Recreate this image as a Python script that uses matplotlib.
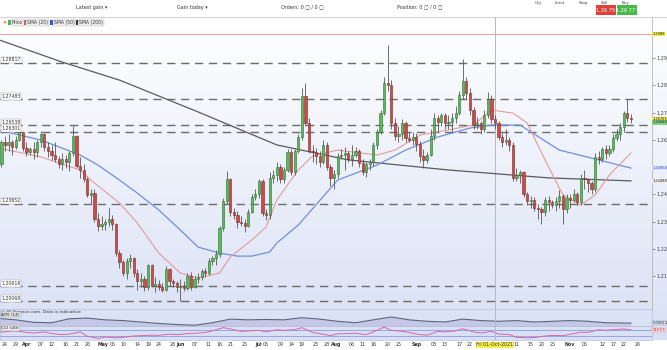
import numpy as np
import pandas as pd
import matplotlib
matplotlib.use("Agg")
import matplotlib.pyplot as plt
from matplotlib.patches import Rectangle

# ---------------- data ----------------
dates = pd.bdate_range("2021-03-22", "2021-11-24")

opens = [1.2480,1.2510,1.2592,1.2580,1.2590,1.2575,1.2600,1.2628,1.2570,1.2555,
         1.2565,1.2555,1.2590,1.2622,1.2575,1.2560,1.2545,1.2530,1.2510,1.2530,
         1.2520,1.2550,1.2615,1.2505,1.2490,1.2455,1.2397,1.2405,1.2310,1.2285,
         1.2290,1.2300,1.2310,1.2290,1.2185,1.2150,1.2110,1.2155,1.2165,1.2110,
         1.2080,1.2090,1.2060,1.2140,1.2065,1.2070,1.2060,1.2050,1.2125,1.2080,
         1.2075,1.2060,1.2065,1.2055,1.2100,1.2060,1.2090,1.2095,1.2120,1.2110,
         1.2155,1.2165,1.2180,1.2275,1.2375,1.2455,1.2335,1.2325,1.2300,1.2295,
         1.2285,1.2335,1.2390,1.2400,1.2450,1.2330,1.2325,1.2460,1.2470,1.2500,
         1.2455,1.2490,1.2555,1.2480,1.2560,1.2610,1.2760,1.2660,1.2560,1.2555,
         1.2540,1.2520,1.2580,1.2500,1.2460,1.2475,1.2540,1.2545,1.2550,1.2530,
         1.2545,1.2560,1.2515,1.2480,1.2510,1.2520,1.2580,1.2630,1.2700,1.2810,
         1.2800,1.2660,1.2615,1.2620,1.2660,1.2605,1.2600,1.2610,1.2585,1.2540,
         1.2525,1.2545,1.2615,1.2680,1.2665,1.2690,1.2660,1.2665,1.2680,1.2700,
         1.2765,1.2815,1.2770,1.2710,1.2655,1.2660,1.2640,1.2690,1.2750,1.2675,
         1.2660,1.2610,1.2590,1.2600,1.2580,1.2460,1.2470,1.2480,1.2400,1.2375,
         1.2380,1.2350,1.2345,1.2335,1.2380,1.2370,1.2360,1.2375,1.2395,1.2345,
         1.2385,1.2380,1.2400,1.2370,1.2460,1.2455,1.2440,1.2420,1.2535,1.2530,
         1.2565,1.2550,1.2565,1.2605,1.2620,1.2645,1.2700,1.2680]
highs = [1.2520,1.2600,1.2615,1.2620,1.2600,1.2615,1.2632,1.2630,1.2590,1.2575,
         1.2590,1.2600,1.2632,1.2625,1.2590,1.2580,1.2590,1.2540,1.2550,1.2545,
         1.2560,1.2650,1.2618,1.2535,1.2510,1.2465,1.2420,1.2420,1.2330,1.2320,
         1.2310,1.2350,1.2325,1.2295,1.2195,1.2160,1.2165,1.2180,1.2170,1.2125,
         1.2110,1.2100,1.2145,1.2145,1.2095,1.2085,1.2075,1.2135,1.2130,1.2090,
         1.2080,1.2090,1.2080,1.2110,1.2115,1.2100,1.2110,1.2125,1.2130,1.2165,
         1.2175,1.2195,1.2285,1.2385,1.2485,1.2460,1.2350,1.2340,1.2320,1.2310,
         1.2345,1.2400,1.2420,1.2455,1.2455,1.2345,1.2480,1.2490,1.2520,1.2510,
         1.2500,1.2565,1.2565,1.2565,1.2620,1.2790,1.2808,1.2680,1.2580,1.2570,
         1.2560,1.2600,1.2590,1.2510,1.2490,1.2550,1.2565,1.2575,1.2560,1.2580,
         1.2575,1.2565,1.2530,1.2520,1.2530,1.2590,1.2640,1.2710,1.2830,1.2949,
         1.2820,1.2680,1.2650,1.2675,1.2670,1.2630,1.2630,1.2625,1.2595,1.2565,
         1.2555,1.2640,1.2700,1.2690,1.2700,1.2700,1.2690,1.2700,1.2725,1.2780,
         1.2896,1.2830,1.2790,1.2720,1.2685,1.2670,1.2710,1.2775,1.2765,1.2690,
         1.2670,1.2625,1.2640,1.2610,1.2590,1.2495,1.2490,1.2485,1.2410,1.2395,
         1.2390,1.2365,1.2355,1.2390,1.2395,1.2380,1.2390,1.2415,1.2400,1.2400,
         1.2400,1.2420,1.2410,1.2475,1.2490,1.2460,1.2450,1.2550,1.2560,1.2575,
         1.2580,1.2580,1.2620,1.2640,1.2660,1.2705,1.2750,1.2695]
lows = [1.2465,1.2500,1.2560,1.2560,1.2545,1.2565,1.2595,1.2560,1.2540,1.2545,
        1.2530,1.2535,1.2575,1.2560,1.2535,1.2525,1.2520,1.2495,1.2490,1.2495,
        1.2485,1.2540,1.2495,1.2460,1.2445,1.2390,1.2365,1.2300,1.2265,1.2270,
        1.2270,1.2285,1.2270,1.2175,1.2130,1.2100,1.2090,1.2130,1.2095,1.2050,
        1.2060,1.2045,1.2050,1.2060,1.2040,1.2050,1.2040,1.2045,1.2065,1.2060,
        1.2040,1.2007,1.2045,1.2050,1.2050,1.2055,1.2075,1.2085,1.2095,1.2105,
        1.2140,1.2140,1.2170,1.2265,1.2365,1.2320,1.2310,1.2275,1.2285,1.2260,
        1.2280,1.2330,1.2380,1.2385,1.2320,1.2305,1.2310,1.2440,1.2450,1.2440,
        1.2440,1.2480,1.2470,1.2470,1.2550,1.2600,1.2650,1.2550,1.2520,1.2510,
        1.2500,1.2510,1.2490,1.2430,1.2420,1.2460,1.2530,1.2490,1.2520,1.2505,
        1.2535,1.2500,1.2470,1.2465,1.2490,1.2505,1.2565,1.2620,1.2690,1.2780,
        1.2640,1.2600,1.2590,1.2600,1.2590,1.2590,1.2580,1.2560,1.2520,1.2495,
        1.2515,1.2540,1.2600,1.2630,1.2650,1.2640,1.2640,1.2630,1.2660,1.2690,
        1.2750,1.2750,1.2690,1.2640,1.2640,1.2620,1.2630,1.2680,1.2660,1.2640,
        1.2600,1.2575,1.2580,1.2560,1.2450,1.2450,1.2440,1.2390,1.2360,1.2350,
        1.2340,1.2310,1.2290,1.2320,1.2340,1.2350,1.2340,1.2350,1.2290,1.2330,
        1.2350,1.2370,1.2360,1.2360,1.2420,1.2410,1.2400,1.2410,1.2510,1.2520,
        1.2530,1.2540,1.2555,1.2595,1.2600,1.2630,1.2665,1.2660]
closes = [1.2510,1.2592,1.2580,1.2590,1.2575,1.2600,1.2628,1.2570,1.2555,1.2565,
          1.2555,1.2590,1.2622,1.2575,1.2560,1.2545,1.2530,1.2510,1.2530,1.2520,
          1.2550,1.2615,1.2505,1.2490,1.2455,1.2397,1.2405,1.2310,1.2285,1.2290,
          1.2300,1.2310,1.2290,1.2185,1.2150,1.2110,1.2155,1.2165,1.2110,1.2080,
          1.2090,1.2060,1.2140,1.2065,1.2070,1.2060,1.2050,1.2125,1.2080,1.2075,
          1.2060,1.2065,1.2055,1.2100,1.2060,1.2090,1.2095,1.2120,1.2110,1.2155,
          1.2165,1.2180,1.2275,1.2375,1.2455,1.2335,1.2325,1.2300,1.2295,1.2285,
          1.2335,1.2390,1.2400,1.2450,1.2330,1.2325,1.2460,1.2470,1.2500,1.2455,
          1.2490,1.2555,1.2480,1.2560,1.2610,1.2760,1.2660,1.2560,1.2555,1.2540,
          1.2520,1.2580,1.2500,1.2460,1.2475,1.2540,1.2545,1.2550,1.2530,1.2545,
          1.2560,1.2515,1.2480,1.2510,1.2520,1.2580,1.2630,1.2700,1.2810,1.2800,
          1.2660,1.2615,1.2620,1.2660,1.2605,1.2600,1.2610,1.2585,1.2540,1.2525,
          1.2545,1.2615,1.2680,1.2665,1.2690,1.2660,1.2665,1.2680,1.2700,1.2765,
          1.2815,1.2770,1.2710,1.2655,1.2660,1.2640,1.2690,1.2750,1.2675,1.2660,
          1.2610,1.2590,1.2600,1.2580,1.2460,1.2470,1.2480,1.2400,1.2375,1.2380,
          1.2350,1.2345,1.2335,1.2380,1.2370,1.2360,1.2375,1.2395,1.2345,1.2385,
          1.2380,1.2400,1.2370,1.2460,1.2455,1.2440,1.2420,1.2535,1.2530,1.2565,
          1.2550,1.2565,1.2605,1.2620,1.2645,1.2700,1.2680,1.2676]

sma20_dates = ["2021-03-22","2021-04-07","2021-04-22","2021-04-27","2021-05-07","2021-05-14",
               "2021-05-24","2021-06-01","2021-06-08","2021-06-16","2021-06-21","2021-06-29",
               "2021-07-05","2021-07-08","2021-07-16","2021-07-22","2021-08-02","2021-08-17",
               "2021-08-24","2021-09-02","2021-09-14","2021-09-23","2021-09-30","2021-10-08",
               "2021-10-14","2021-10-21","2021-10-28","2021-11-04","2021-11-10","2021-11-16","2021-11-24"]
sma20_vals = [1.2570,1.2537,1.2489,1.2452,1.2368,1.2294,1.2184,1.2111,1.2093,1.2111,1.2170,1.2232,
              1.2280,1.2379,1.2489,1.2540,1.2562,1.2544,1.2562,1.2617,1.2636,1.2654,1.2709,1.2698,
              1.2661,1.2526,1.2397,1.2361,1.2397,1.2471,1.2551]
sma50_dates = ["2021-03-22","2021-04-07","2021-04-22","2021-04-29","2021-05-07","2021-05-14",
               "2021-05-24","2021-06-01","2021-06-08","2021-06-16","2021-06-23","2021-06-29",
               "2021-07-06","2021-07-08","2021-07-16","2021-08-02","2021-08-17","2021-08-27",
               "2021-09-09","2021-09-22","2021-09-30","2021-10-12","2021-10-27","2021-11-11","2021-11-24"]
sma50_vals = [1.2636,1.2599,1.2544,1.2507,1.2452,1.2404,1.2342,1.2269,1.2206,1.2184,1.2173,1.2173,
              1.2188,1.2221,1.2287,1.2452,1.2507,1.2562,1.2610,1.2643,1.2654,1.2654,1.2562,1.2526,1.2496]
sma200_dates = ["2021-03-22","2021-04-15","2021-05-07","2021-06-08","2021-07-08","2021-08-05",
                "2021-09-14","2021-10-22","2021-11-24"]
sma200_vals = [1.2968,1.2885,1.2819,1.2702,1.2581,1.2526,1.2489,1.2460,1.2449]

atr_dates = ["2021-03-22","2021-03-29","2021-04-05","2021-04-12","2021-04-19","2021-04-26",
             "2021-05-03","2021-05-10","2021-05-17","2021-05-24","2021-05-31","2021-06-07",
             "2021-06-14","2021-06-21","2021-06-28","2021-07-05","2021-07-12","2021-07-19",
             "2021-07-26","2021-08-02","2021-08-09","2021-08-16","2021-08-23","2021-08-30",
             "2021-09-06","2021-09-13","2021-09-20","2021-09-27","2021-10-04","2021-10-11",
             "2021-10-18","2021-10-25","2021-11-01","2021-11-08","2021-11-15","2021-11-24"]
atr_vals = [0.0094,0.0090,0.0083,0.0082,0.0093,0.0095,0.0090,0.0088,0.0084,0.0080,0.0077,0.0075,
            0.0082,0.0092,0.0090,0.0091,0.0090,0.0096,0.0092,0.0086,0.0082,0.0090,0.0098,0.0090,
            0.0086,0.0084,0.0092,0.0088,0.0086,0.0088,0.0084,0.0086,0.0088,0.0086,0.0082,0.0081]

cci_dates = ["2021-03-22","2021-03-25","2021-03-29","2021-04-01","2021-04-05","2021-04-08",
             "2021-04-12","2021-04-15","2021-04-19","2021-04-22","2021-04-26","2021-04-29",
             "2021-05-03","2021-05-06","2021-05-10","2021-05-13","2021-05-17","2021-05-20",
             "2021-05-24","2021-05-27","2021-05-31","2021-06-03","2021-06-07","2021-06-10",
             "2021-06-14","2021-06-17","2021-06-21","2021-06-24","2021-06-28","2021-07-01",
             "2021-07-05","2021-07-08","2021-07-12","2021-07-15","2021-07-19","2021-07-22",
             "2021-07-26","2021-07-29","2021-08-02","2021-08-05","2021-08-09","2021-08-12",
             "2021-08-16","2021-08-19","2021-08-23","2021-08-26","2021-08-30","2021-09-02",
             "2021-09-06","2021-09-09","2021-09-13","2021-09-16","2021-09-20","2021-09-23",
             "2021-09-27","2021-09-30","2021-10-04","2021-10-07","2021-10-11","2021-10-14",
             "2021-10-18","2021-10-21","2021-10-25","2021-10-28","2021-11-01","2021-11-04",
             "2021-11-08","2021-11-11","2021-11-15","2021-11-18","2021-11-22","2021-11-24"]
cci_vals = [20,60,80,20,0,40,-20,-60,-40,40,-120,-200,-150,-180,-160,-110,-100,-80,-90,-40,
            -60,-20,-10,20,80,200,150,60,80,100,40,120,100,120,200,20,-20,-100,-30,-20,-10,-60,
            40,220,100,60,20,-60,-80,60,40,80,160,40,0,60,-40,-60,-160,-180,-170,-110,-90,-100,
            -50,30,20,120,100,130,150,115]

level_vals = [1.28817, 1.27483, 1.26538, 1.26301, 1.23652, 1.20616, 1.20068]
tick_dates = ["2021-03-24","2021-03-29","2021-04-01","2021-04-07","2021-04-12","2021-04-16",
              "2021-04-21","2021-04-26","2021-05-01","2021-05-05","2021-05-10","2021-05-14",
              "2021-05-19","2021-05-24","2021-05-28","2021-06-01","2021-06-07","2021-06-11",
              "2021-06-16","2021-06-21","2021-06-25","2021-07-01","2021-07-05","2021-07-09",
              "2021-07-14","2021-07-19","2021-07-23","2021-07-28","2021-08-01","2021-08-06",
              "2021-08-11","2021-08-16","2021-08-20","2021-08-25","2021-09-01","2021-09-08",
              "2021-09-13","2021-09-17","2021-09-22","2021-10-01","2021-10-11","2021-10-15",
              "2021-10-20","2021-10-25","2021-11-01","2021-11-05","2021-11-12",
              "2021-11-17","2021-11-22","2021-11-26"]
tick_labels = ["24","29","Apr","07","12","16","21","26","May","05","10","14","19","24","28",
               "Jun","07","11","16","21","25","Jul","05","09","14","19","23","28","Aug","06",
               "11","16","20","25","Sep","08","13","17","22","Fri 01-Oct-2021","11","15","20",
               "25","Nov","05","12","17","22","26"]

# ---------------- helpers ----------------
pos = {d.strftime("%Y-%m-%d"): i for i, d in enumerate(dates)}
def idx(ds):
    out = []
    for d in ds:
        if d in pos:
            out.append(pos[d])
        else:  # weekend / beyond data: place between trading days
            t = pd.Timestamp(d)
            before = (dates < t).sum() - 1
            extra = np.busday_count(dates[-1].date(), t.date()) if t > dates[-1] else 0.5
            out.append(before + extra)
    return np.array(out, dtype=float)

W, H = 667, 350
fig = plt.figure(figsize=(W/100, H/100), dpi=100)
fig.patch.set_facecolor("white")

def fy(px):  # figure fraction from pixel y (top origin)
    return 1 - px/H

XL = (0.6, 182.9)
main_top, main_bot = 17, 309
atr_bot, cci_bot = 326, 340
axw = 652/W

# background gradient
bg = fig.add_axes([0, fy(cci_bot), 1, fy(main_top)-fy(cci_bot)], zorder=-5)
grad = np.linspace(0, 1, 256)[:, None]
c0 = np.array([1.0, 1.0, 1.0]); c1 = np.array([0.85, 0.88, 0.96])
img = c0[None, None, :]*(1-grad[..., None]) + c1[None, None, :]*grad[..., None]
bg.imshow(img, aspect="auto", extent=[0, 1, 0, 1])
bg.set_axis_off()

ax = fig.add_axes([0, fy(main_bot), axw, fy(main_top)-fy(main_bot)])
ax.set_facecolor("none")
ax.set_xlim(*XL)
ax.set_ylim(1.29 - (main_bot-58)/2725, 1.29 + (58-main_top)/2725)

x = np.arange(len(dates))
o = np.array(opens); h = np.array(highs); l = np.array(lows); c = np.array(closes)
up = c >= o
bw = 0.62
for i in x:
    col = "#5cb85c" if up[i] else "#cc4b47"
    ec = "#2f6f2f" if up[i] else "#7a2a28"
    ax.vlines(i, l[i], h[i], color="#555555", lw=0.6, zorder=3)
    lo_, hi_ = min(o[i], c[i]), max(o[i], c[i])
    ax.add_patch(Rectangle((i-bw/2, lo_), bw, max(hi_-lo_, 0.00012), facecolor=col,
                           edgecolor=ec, lw=0.4, zorder=4))

ax.plot(idx(sma200_dates), sma200_vals, color="#5a5a5a", lw=0.9, zorder=2)
ax.plot(idx(sma50_dates), sma50_vals, color="#6f8fdc", lw=0.9, zorder=2)
ax.plot(idx(sma20_dates), sma20_vals, color="#e39a9a", lw=0.8, zorder=2)

for lv in level_vals:
    ax.axhline(lv, color="#6b6b6b", lw=1.0, dashes=(6, 4), zorder=1)
    ax.text(1.0, lv + 0.0011, f"{lv:.5f}", fontsize=3.3, color="#333", va="center",
            ha="left", bbox=dict(boxstyle="square,pad=0.15", fc="white", ec="#999", lw=0.3),
            zorder=6)

ax.axhline(1.2988, color="#f0a0a0", lw=0.7, zorder=1)
ax.axvline(pos["2021-10-01"], color="#f0a0a0", lw=0.7, zorder=1)

ax.yaxis.tick_right()
yt = [1.21, 1.22, 1.23, 1.24, 1.26, 1.27, 1.28, 1.29]
ax.set_yticks(yt)
ax.set_yticklabels([f"{v:.2f}" for v in yt], fontsize=3.6, color="#444")
ax.tick_params(axis="y", length=2, width=0.4, pad=1.5, colors="#444")
ax.set_xticks([])
for s in ["top", "left", "bottom"]:
    ax.spines[s].set_visible(False)
ax.spines["right"].set_color("#aaaaaa"); ax.spines["right"].set_linewidth(0.5)

# right price tags
def tag(axis, y, txt, fc, ec="none", tc="#222"):
    axis.text(XL[1] + 0.15, y, txt, fontsize=2.6, color=tc, va="center", ha="left",
              bbox=dict(boxstyle="square,pad=0.08", fc=fc, ec=ec, lw=0.3),
              clip_on=False, zorder=7)
tag(ax, 1.2988, "1.2988", "#f4ee4a")
tag(ax, 1.26763, "1.26763", "#f4ee4a")
tag(ax, 1.26640, "1.26688", "#7fd07f")
tag(ax, 1.24956, "1.24956", "#d8e0fb", tc="#2a4fc0")
tag(ax, 1.24488, "1.24488", "#eeeeee")

# legend
items = [("Price", "#4fae4f"), ("SMA (20)", "#d64545"), ("SMA (50)", "#2a4fd8"), ("SMA (200)", "#111111")]
xs = [8, 23, 50, 75]
fig.text(2/W, fy(22), "✕", fontsize=3.5, color="#c33", va="center")
for (lab, colr), px in zip(items, xs):
    fig.patches.append(Rectangle((px/W, fy(25)), 3/W, 5/H, transform=fig.transFigure,
                                 fc=colr, ec="none"))
    fig.text((px+4)/W, fy(22.5), lab, fontsize=3.3, color="#333", va="center",
             bbox=dict(boxstyle="square,pad=0.15", fc="#eeeeee", ec="#bbbbbb", lw=0.3))

# ATR panel
axa = fig.add_axes([0, fy(atr_bot), axw, fy(main_bot)-fy(atr_bot)])
axa.set_facecolor("none")
axa.set_xlim(*XL); axa.set_ylim(0.0073, 0.0120)
ax_ = idx(atr_dates)
axa.fill_between(ax_, 0.0073, atr_vals, color="#c4c8e6", lw=0)
axa.plot(ax_, atr_vals, color="#5d6378", lw=0.8)
axa.set_xticks([]); axa.set_yticks([])
for s in axa.spines.values():
    s.set_color("#b8bfdc"); s.set_linewidth(0.5)
axa.text(1.0, 0.0117, "© IG-Finance.com. Data is indicative", fontsize=3.2, color="#333", va="top")
axa.text(1.0, 0.0104, "ATR (14)", fontsize=3.2, color="#222", va="center",
         bbox=dict(boxstyle="square,pad=0.15", fc="#e6e6e6", ec="#999", lw=0.3))
tag(axa, 0.00814, "0.00814", "#dfe3f3", ec="#8890b0", tc="#333")

# CCI panel
axc = fig.add_axes([0, fy(cci_bot), axw, fy(atr_bot)-fy(cci_bot)])
axc.set_facecolor("none")
axc.set_xlim(*XL); axc.set_ylim(-260, 260)
axc.axhline(100, color="#7d8fd8", lw=0.5)
axc.axhline(-100, color="#7d8fd8", lw=0.5)
axc.plot(idx(cci_dates), cci_vals, color="#d965a8", lw=0.7)
axc.axvline(pos["2021-10-01"], color="#f0a0a0", lw=0.7)
axa.axvline(pos["2021-10-01"], color="#f0a0a0", lw=0.7)
for s in axc.spines.values():
    s.set_color("#b8bfdc"); s.set_linewidth(0.5)
axc.text(1.0, 190, "CCI (20)", fontsize=3.2, color="#222", va="center",
         bbox=dict(boxstyle="square,pad=0.15", fc="#e6e6e6", ec="#999", lw=0.3))
tag(axc, 114.57, "114.57", "#fbe1e1", ec="#d88", tc="#c22")
axc.set_yticks([])
axc.set_xticks(idx(tick_dates))
axc.set_xticklabels(tick_labels, fontsize=3.4, color="#333")
axc.tick_params(axis="x", length=0, pad=1.5)
for t in axc.get_xticklabels():
    if t.get_text().startswith("Fri"):
        t.set_bbox(dict(boxstyle="square,pad=0.1", fc="#f4ee4a", ec="none"))
    if t.get_text() in ("Apr", "May", "Jun", "Jul", "Aug", "Sep", "Nov"):
        t.set_fontweight("bold")

# toolbar
fig.lines.append(plt.Line2D([0, 1], [fy(main_top), fy(main_top)], transform=fig.transFigure,
                            color="#cccccc", lw=0.6))
for px, txt in [(92, "Latest gain ▾"), (192, "Gain today ▾"), (302, "Orders: 0 ▢ / 0 ▢"),
                (420, "Position: 0 ▢ / 0 ▢")]:
    fig.text(px/W, fy(7), txt, fontsize=3.5, color="#333", ha="center", va="center")
for px, txt in [(538, "Qty"), (560, "Limit"), (583, "Stop"), (604, "Sell"), (626, "Buy")]:
    fig.text(px/W, fy(3), txt, fontsize=3.0, color="#444", ha="center", va="center")
fig.patches.append(Rectangle((596/W, fy(15)), 20/W, 10/H, transform=fig.transFigure,
                             fc="#e0403b", ec="none"))
fig.patches.append(Rectangle((617/W, fy(15)), 20/W, 10/H, transform=fig.transFigure,
                             fc="#46b946", ec="none"))
fig.text(606/W, fy(10), "1.26 75⁵", fontsize=3.6, color="white", ha="center", va="center")
fig.text(627/W, fy(10), "1.26 77⁷", fontsize=3.6, color="white", ha="center", va="center")

fig.savefig("out.png", dpi=100)
